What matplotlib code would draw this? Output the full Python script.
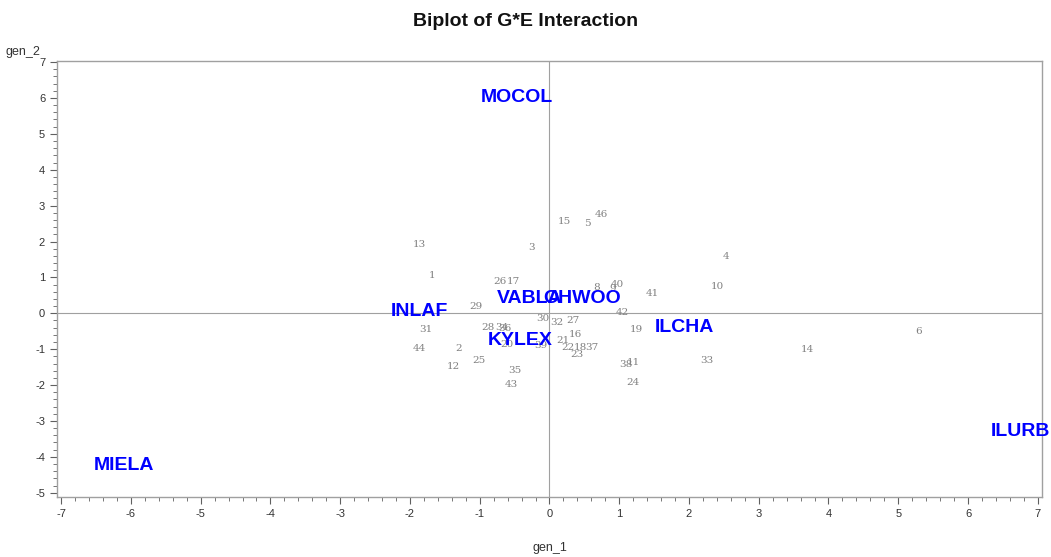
import matplotlib
matplotlib.use("Agg")
import matplotlib.pyplot as plt
from matplotlib.ticker import MultipleLocator, AutoMinorLocator

plt.rcParams["axes.unicode_minus"] = False

# Genotype scores (gen_1, gen_2)
gen_ids = ["13", "1", "3", "15", "5", "46", "4", "10", "26", "17", "8", "9", "40",
           "41", "29", "42", "30", "32", "27", "28", "34", "36", "31", "19", "16",
           "6", "44", "2", "12", "25", "20", "39", "21", "22", "18", "37", "23",
           "38", "11", "24", "33", "14", "35", "43"]
gen_x = [-1.86, -1.68, -0.25, 0.21, 0.54, 0.74, 2.53, 2.41, -0.71, -0.51, 0.68, 0.90, 0.97,
         1.48, -1.05, 1.05, -0.09, 0.11, 0.33, -0.88, -0.68, -0.64, -1.77, 1.24, 0.37,
         5.29, -1.86, -1.30, -1.37, -1.01, -0.61, -0.13, 0.19, 0.27, 0.44, 0.61, 0.39,
         1.10, 1.21, 1.20, 2.26, 3.70, -0.49, -0.54]
gen_y = [1.93, 1.06, 1.82, 2.57, 2.49, 2.74, 1.59, 0.75, 0.89, 0.89, 0.73, 0.70, 0.81,
         0.56, 0.20, 0.03, -0.14, -0.25, -0.20, -0.39, -0.39, -0.42, -0.45, -0.45, -0.59,
         -0.50, -0.98, -0.98, -1.48, -1.31, -0.86, -0.90, -0.75, -0.95, -0.95, -0.95, -1.15,
         -1.42, -1.38, -1.93, -1.31, -1.01, -1.59, -1.98]

# Environment scores
env_ids = ["MOCOL", "INLAF", "VABLA", "OHWOO", "KYLEX", "ILCHA", "ILURB", "MIELA"]
env_x = [-0.46, -1.86, -0.28, 0.47, -0.42, 1.93, 6.75, -6.10]
env_y = [6.00, 0.06, 0.42, 0.42, -0.75, -0.39, -3.30, -4.25]

fig = plt.figure(figsize=(10.51, 5.57), dpi=100)
ax = fig.add_axes([0.0542, 0.1077, 0.9372, 0.7828])

ax.set_xlim(-7.06, 7.06)
ax.set_ylim(-5.12, 7.03)

ax.axhline(0, color="#a0a0a0", lw=0.8, zorder=1)
ax.axvline(0, color="#a0a0a0", lw=0.8, zorder=1)

for lab, x, y in zip(gen_ids, gen_x, gen_y):
    ax.text(x, y, lab, ha="center", va="center", fontsize=7.5,
            family="DejaVu Serif", color="#808080", zorder=2)

for lab, x, y in zip(env_ids, env_x, env_y):
    ax.text(x, y, lab, ha="center", va="center", fontsize=14,
            family="Liberation Sans", fontweight="bold", color="#0000ff", zorder=3)

ax.xaxis.set_major_locator(MultipleLocator(1))
ax.yaxis.set_major_locator(MultipleLocator(1))
ax.xaxis.set_minor_locator(AutoMinorLocator(5))
ax.yaxis.set_minor_locator(AutoMinorLocator(5))
ax.tick_params(which="major", length=5, width=0.8, color="#606060",
               labelsize=8, labelcolor="#333333")
ax.tick_params(which="minor", length=3, width=0.6, color="#606060")
for lbl in ax.get_xticklabels() + ax.get_yticklabels():
    lbl.set_family("Liberation Sans")

for s in ax.spines.values():
    s.set_color("#a0a0a0")
    s.set_linewidth(1.0)

ax.set_xlabel("gen_1", fontsize=9, family="Liberation Sans", color="#333333", labelpad=17)
fig.text(0.022, 0.906, "gen_2", fontsize=9, family="Liberation Sans", color="#333333",
         ha="center", va="center")

fig.suptitle("Biplot of G*E Interaction", x=0.5, y=0.977, fontsize=14,
             family="Liberation Sans", fontweight="bold", color="#111111")

fig.savefig("out.png", dpi=100)
